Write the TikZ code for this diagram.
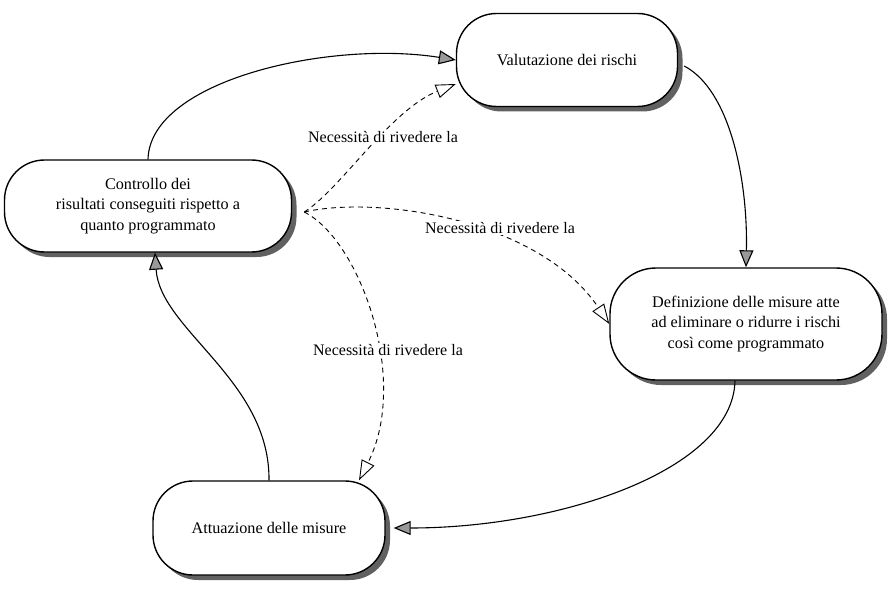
\documentclass[tikz,border=0pt]{standalone}
\usepackage{fontspec}
\setmainfont{Liberation Serif}
\usetikzlibrary{arrows.meta,shadows}
\begin{document}
\begin{tikzpicture}[x=1pt,y=-1pt,
  box/.style={draw, line width=1.4pt, fill=white, align=center, inner sep=0pt,
    font=\fontsize{16.2}{20.5}\selectfont,
    general shadow={fill=black!62, shadow xshift=5pt, shadow yshift=-5pt}},
  flow/.style={line width=1.1pt, -{Triangle[length=17pt,width=14pt,fill=black!40]}},
  need/.style={line width=0.9pt, dash pattern=on 5pt off 4pt, -{Triangle[open,length=20pt,width=14pt]}},
  lbl/.style={fill=white, inner sep=1pt, font=\fontsize{16}{19}\selectfont}]
\useasboundingbox (0,0) rectangle (892,591);
\node[box, minimum width=221pt, minimum height=93pt, rounded corners=40pt] (V) at (567,60) {Valutazione dei rischi};
\node[box, minimum width=287pt, minimum height=92pt, rounded corners=40pt] (C) at (148,206) {Controllo dei\\risultati conseguiti rispetto a\\quanto programmato};
\node[box, minimum width=272pt, minimum height=112pt, rounded corners=46pt] (D) at (746,324) {Definizione delle misure atte\\ad eliminare o ridurre i rischi\\così come programmato};
\node[box, minimum width=232pt, minimum height=94pt, rounded corners=40pt] (A) at (269,528) {Attuazione delle misure};

\draw[flow] (C.north) .. controls (150,80) and (330,40) .. (V.west);
\draw[flow] ([xshift=6pt,yshift=-6pt]V.east) .. controls (730,90) and (748,180) .. (D.north);
\draw[flow] ([xshift=-11pt]D.south) .. controls (733,470) and (560,528) .. ([xshift=8pt]A.east);
\draw[flow] (A.north) .. controls (270,380) and (160,330) .. ([xshift=7pt]C.south);

\draw[need] ([xshift=12pt,yshift=-6pt]C.east) .. controls (340,190) and (390,110) .. ([yshift=-24pt]V.west);
\draw[need] ([xshift=12pt,yshift=-6pt]C.east) .. controls (380,195) and (540,220) .. (D.west);
\draw[need] ([xshift=12pt,yshift=-6pt]C.east) .. controls (360,240) and (410,380) .. ([xshift=90pt]A.north);

\node[lbl] (L1) at (383,137) {Necessità di rivedere la};
\node[lbl] (L2) at (500,228) {Necessità di rivedere la};
\node[lbl] (L3) at (388,350) {Necessità di rivedere la};
\end{tikzpicture}
\end{document}
